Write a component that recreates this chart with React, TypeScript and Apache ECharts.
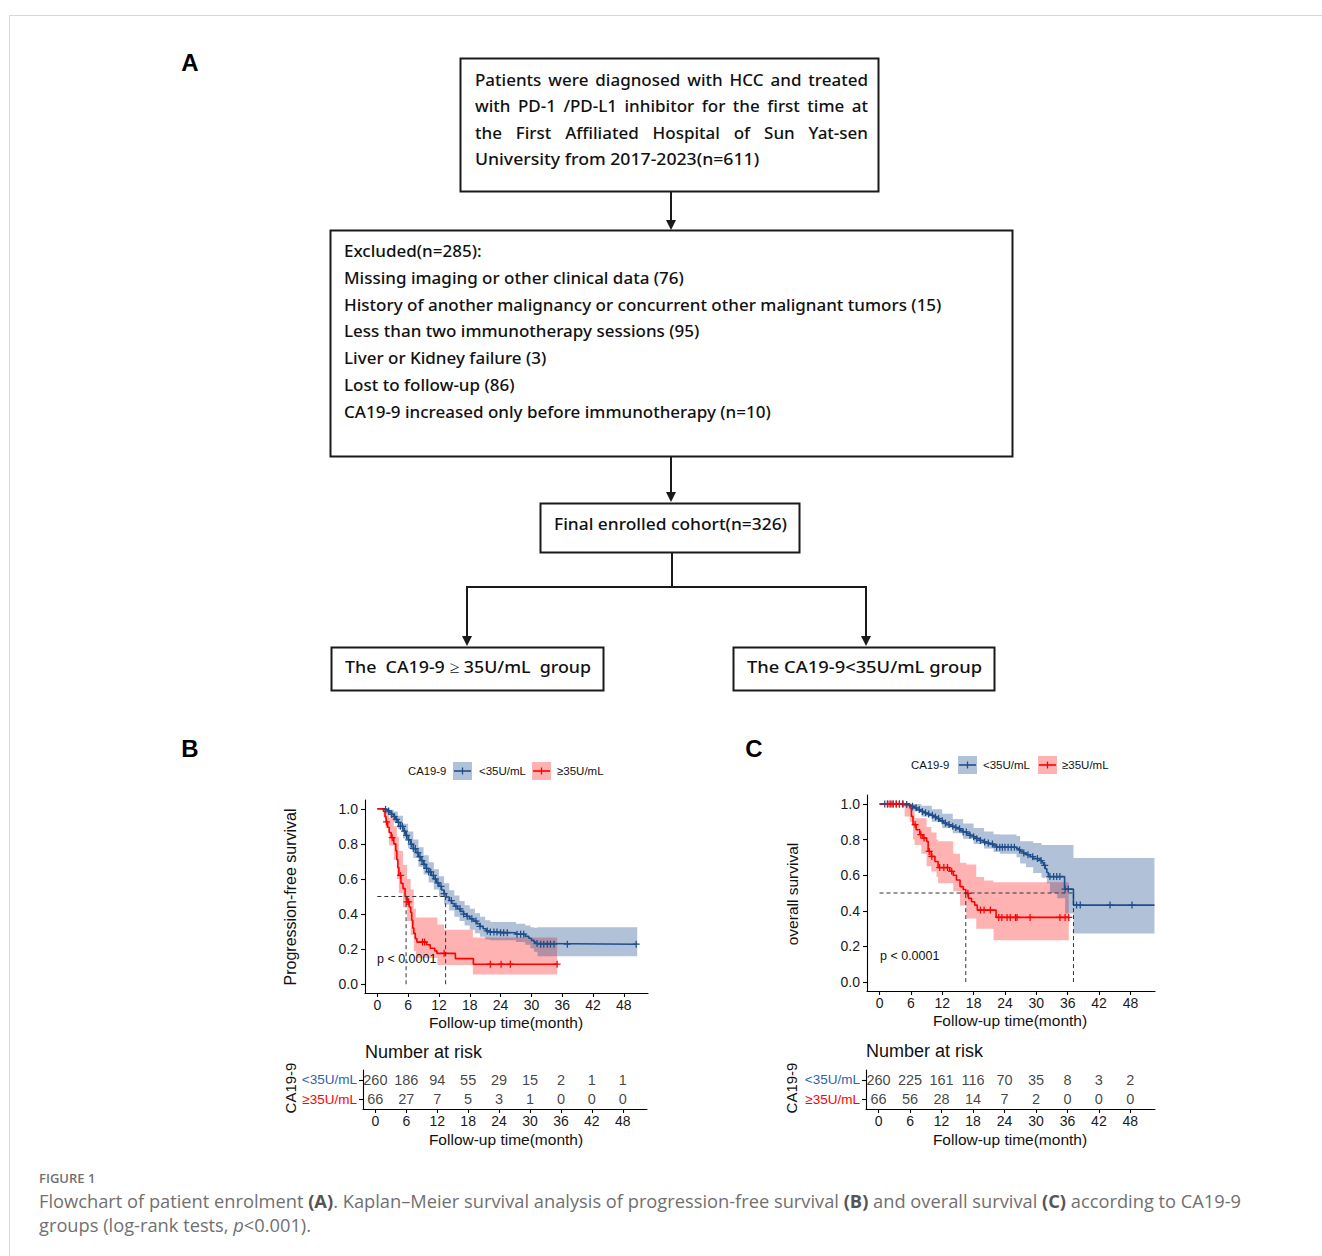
import React, { useEffect, useRef } from "react";
import * as echarts from "echarts";

const PAGE_W = 1322;
const PAGE_H = 1256;

// ---------------- shared tick / label data ----------------
const xTicks = [0, 6, 12, 18, 24, 30, 36, 42, 48];
const yTicks = [0, 0.2, 0.4, 0.6, 0.8, 1.0];
const riskRows = ["≥35U/mL", "<35U/mL"]; // bottom -> top
const riskTimes = [0, 6, 12, 18, 24, 30, 36, 42, 48];

// ---------------- panel B : progression-free survival ----------------
const pfsLowCurve: [number, number][] = [
  [0, 1], [1.6, 0.996], [2.0, 0.988], [2.4, 0.978], [2.8, 0.968], [3.2, 0.955], [3.6, 0.94],
  [4.0, 0.922], [4.5, 0.9], [5.0, 0.873], [5.5, 0.848], [6.0, 0.823], [6.5, 0.798], [7.0, 0.773],
  [7.5, 0.75], [8.0, 0.727], [8.5, 0.705], [9.0, 0.683], [9.5, 0.66], [10.0, 0.64], [10.5, 0.62],
  [11.0, 0.6], [11.5, 0.578], [12.0, 0.558], [12.5, 0.537], [13.0, 0.517], [13.4, 0.497],
  [14.0, 0.477], [14.5, 0.46], [15.0, 0.445], [15.6, 0.43], [16.2, 0.415], [16.8, 0.4],
  [17.4, 0.387], [18.0, 0.373], [18.7, 0.36], [19.4, 0.345], [20.0, 0.33], [20.6, 0.316],
  [21.2, 0.304], [21.8, 0.297], [23.5, 0.293], [27.0, 0.285], [28.8, 0.273], [29.5, 0.262],
  [30.0, 0.25], [30.5, 0.24], [30.9, 0.232], [31.2, 0.228], [50.6, 0.228],
];
// [time, lower, upper]
const pfsLowBand: [number, number, number][] = [
  [0, 1, 1], [1.6, 0.975, 1.0], [2.4, 0.955, 0.995], [3.2, 0.925, 0.985], [4.0, 0.885, 0.96],
  [5.0, 0.83, 0.915], [6.0, 0.775, 0.87], [7.0, 0.72, 0.825], [8.0, 0.67, 0.78], [9.0, 0.625, 0.735],
  [10.0, 0.58, 0.695], [11.0, 0.54, 0.655], [12.0, 0.5, 0.615], [13.0, 0.455, 0.575], [14.0, 0.42, 0.535],
  [15.0, 0.385, 0.505], [16.0, 0.36, 0.475], [17.0, 0.335, 0.45], [18.0, 0.31, 0.43], [19.0, 0.29, 0.405],
  [20.0, 0.27, 0.385], [21.0, 0.255, 0.365], [22.0, 0.25, 0.355], [27.0, 0.24, 0.345],
  [28.8, 0.225, 0.335], [29.8, 0.205, 0.325], [30.5, 0.185, 0.322], [31.2, 0.16, 0.325],
];
const pfsLowBandEnd = 50.6;
const pfsLowCensor = [
  1.6, 2.2, 2.8, 3.3, 3.7, 4.1, 4.5, 4.9, 5.3, 5.7, 6.1, 6.6, 7.0, 7.4, 7.9, 8.3, 8.7, 9.1, 9.6,
  10.0, 10.4, 10.9, 11.3, 11.8, 12.4, 13.0, 14.4, 15.3, 16.1, 16.8, 17.5, 18.4, 19.2, 20.0, 21.4,
  22.0, 22.7, 23.3, 24.0, 24.6, 25.3, 27.2, 27.9, 28.5, 31.1, 31.8, 32.4, 33.1, 33.7, 34.4, 37.0, 50.4,
];
const pfsHighCurve: [number, number][] = [
  [0, 1], [1.2, 0.985], [1.5, 0.955], [1.7, 0.925], [2.0, 0.895], [2.3, 0.865], [2.7, 0.835],
  [3.2, 0.8], [3.6, 0.76], [3.8, 0.71], [4.0, 0.665], [4.2, 0.62], [4.6, 0.575], [5.0, 0.545],
  [5.4, 0.5], [5.8, 0.47], [6.2, 0.44], [6.5, 0.41], [6.7, 0.365], [6.9, 0.32], [7.1, 0.29],
  [7.4, 0.26], [7.7, 0.24], [9.6, 0.225], [10.3, 0.205], [11.2, 0.19], [11.6, 0.176],
  [15.2, 0.146], [18.7, 0.114], [35.0, 0.114],
];
const pfsHighBand: [number, number, number][] = [
  [0, 1, 1], [1.2, 0.95, 1.0], [1.6, 0.89, 0.995], [2.3, 0.79, 0.95], [3.2, 0.71, 0.9], [3.8, 0.6, 0.84],
  [4.2, 0.52, 0.76], [5.0, 0.44, 0.68], [5.8, 0.36, 0.6], [6.5, 0.28, 0.54], [7.1, 0.19, 0.43],
  [7.5, 0.15, 0.38], [11.7, 0.11, 0.34], [13.0, 0.11, 0.31], [18.6, 0.055, 0.267],
];
const pfsHighBandEnd = 35.0;
const pfsHighCensor = [1.8, 2.9, 4.5, 5.8, 6.1, 8.8, 9.2, 13.0, 22.0, 24.1, 25.9, 35.0];
const pfsMedians = [5.6, 13.3];
const pfsRiskLow = [260, 186, 94, 55, 29, 15, 2, 1, 1];
const pfsRiskHigh = [66, 27, 7, 5, 3, 1, 0, 0, 0];

// ---------------- panel C : overall survival ----------------
const osLowCurve: [number, number][] = [
  [0, 1], [4.8, 0.996], [5.5, 0.993], [6.0, 0.987], [6.6, 0.978], [7.1, 0.968], [7.8, 0.958],
  [8.4, 0.95], [9.1, 0.943], [9.7, 0.936], [10.3, 0.927], [10.9, 0.918], [11.5, 0.905], [12.2, 0.893],
  [12.8, 0.884], [13.5, 0.875], [14.2, 0.868], [14.8, 0.861], [15.4, 0.852], [16.0, 0.843],
  [16.7, 0.833], [17.3, 0.824], [18.0, 0.815], [18.6, 0.805], [19.3, 0.795], [19.9, 0.786],
  [20.5, 0.78], [21.1, 0.775], [21.8, 0.766], [22.4, 0.757], [26.2, 0.75], [26.6, 0.742],
  [27.0, 0.733], [27.5, 0.724], [28.1, 0.715], [28.8, 0.704], [29.4, 0.693], [30.7, 0.682],
  [31.1, 0.67], [31.4, 0.655], [31.7, 0.636], [32.0, 0.615], [32.3, 0.592], [35.4, 0.522],
  [37.1, 0.432], [52.6, 0.432],
];
const osLowBand: [number, number, number][] = [
  [0, 1, 1], [4.5, 0.985, 1.0], [6.0, 0.96, 1.0], [8.0, 0.93, 0.99], [10.0, 0.9, 0.97], [12.0, 0.865, 0.945],
  [14.0, 0.835, 0.915], [16.0, 0.805, 0.89], [18.0, 0.775, 0.865], [20.0, 0.75, 0.845], [21.8, 0.73, 0.83],
  [23.0, 0.72, 0.828], [26.2, 0.7, 0.82], [26.9, 0.665, 0.79], [28.0, 0.645, 0.79], [29.4, 0.612, 0.78],
  [31.0, 0.585, 0.77], [32.0, 0.555, 0.77], [32.6, 0.5, 0.77], [34.0, 0.47, 0.77], [35.5, 0.385, 0.77],
  [37.1, 0.273, 0.697],
];
const osLowBandEnd = 52.6;
const osLowCensor = [
  1.0, 1.5, 2.0, 2.6, 3.2, 3.8, 4.4, 5.2, 6.3, 7.0, 7.6, 8.2, 8.8, 9.4, 10.1, 10.7, 11.3, 12.0, 12.6,
  13.3, 14.0, 14.6, 15.3, 16.0, 16.6, 17.3, 18.0, 18.6, 19.3, 20.1, 20.8, 21.6, 22.4, 23.0, 23.5, 24.0,
  24.6, 25.2, 25.8, 26.8, 27.6, 28.4, 29.3, 30.2, 30.9, 31.6, 32.6, 33.3, 33.9, 34.5, 35.5, 36.1, 37.7,
  38.4, 44.1, 48.3,
];
const osHighCurve: [number, number][] = [
  [0, 1], [5.8, 0.977], [6.1, 0.93], [6.4, 0.884], [7.0, 0.855], [7.7, 0.827], [8.3, 0.808],
  [9.0, 0.79], [9.3, 0.733], [9.9, 0.705], [10.6, 0.677], [11.2, 0.643], [13.4, 0.622], [14.1, 0.6],
  [14.7, 0.573], [15.4, 0.536], [16.0, 0.52], [16.5, 0.498], [17.0, 0.47], [17.6, 0.451], [18.2, 0.432],
  [18.7, 0.404], [22.3, 0.363], [36.2, 0.363],
];
const osHighBand: [number, number, number][] = [
  [0, 1, 1], [4.8, 0.93, 1.0], [5.8, 0.9, 1.0], [6.4, 0.8, 0.96], [6.7, 0.77, 0.92], [8.0, 0.72, 0.92],
  [9.0, 0.65, 0.87], [9.9, 0.62, 0.84], [10.9, 0.59, 0.8], [11.2, 0.555, 0.79], [14.1, 0.51, 0.72],
  [15.4, 0.43, 0.67], [16.6, 0.357, 0.66], [18.5, 0.3, 0.59], [20.0, 0.3, 0.57], [21.8, 0.235, 0.56],
];
const osHighBandEnd = 36.2;
const osHighCensor = [
  1.6, 2.2, 2.6, 3.2, 3.8, 4.5, 6.8, 7.9, 8.5, 9.5, 10.0, 11.5, 12.3, 13.0, 13.8, 16.9, 19.3, 20.0,
  21.2, 22.8, 23.4, 24.4, 25.0, 26.0, 26.3, 28.8, 34.5, 35.5, 36.2,
];
const osMedians = [16.5, 37.1];
const osRiskLow = [260, 225, 161, 116, 70, 35, 8, 3, 2];
const osRiskHigh = [66, 56, 28, 14, 7, 2, 0, 0, 0];

// ---------------- flowchart texts ----------------
const box1Lines = [
  "Patients were diagnosed with HCC and treated",
  "with PD-1 /PD-L1 inhibitor for the first time at",
  "the First Affiliated Hospital of Sun Yat-sen",
  "University from 2017-2023(n=611)",
];
const excludedLines = [
  "Excluded(n=285):",
  "Missing imaging or other clinical data (76)",
  "History of another malignancy or concurrent other malignant tumors (15)",
  "Less than two immunotherapy sessions (95)",
  "Liver or Kidney failure (3)",
  "Lost to follow-up (86)",
  "CA19-9 increased only before immunotherapy (n=10)",
];
const cohortText = "Final enrolled cohort(n=326)";
const highGroupText = "The \u00a0CA19-9 ≥ 35U/mL \u00a0group";
const lowGroupText = "The CA19-9<35U/mL group";

// ---------------- styles ----------------
const PLOT_FONT = "Liberation Sans";
const FLOW_FONT = "Noto Sans";
const FLOW_WEIGHT = 500;
const CAP_FONT = "Open Sans";
const BLUE = "#1F4E8C";
const RED = "#FF0000";
const BLUE_FILL = "rgba(31,78,140,0.35)";
const RED_FILL = "rgba(255,0,0,0.3)";
const BLUE_TXT = "#2E63AC";
const PLUS = "path://M0,4.1H10V5.9H0Z M4.1,0H5.9V10H4.1Z";
const XMIN = -2.4;
const XMAX = 52.7;

let measureCtx: CanvasRenderingContext2D | null = null;
function tw(s: string, size: number, family: string, weight: any = "normal", style = "normal") {
  if (!measureCtx) measureCtx = document.createElement("canvas").getContext("2d");
  measureCtx!.font = `${style} ${weight} ${size}px "${family}"`;
  return measureCtx!.measureText(s).width;
}

function stepAt(curve: [number, number][], t: number) {
  let v = curve[0][1];
  for (const [ti, s] of curve) {
    if (ti <= t) v = s;
    else break;
  }
  return v;
}

function bandSeries(band: [number, number, number][], end: number, fill: string, gi: number) {
  return {
    type: "custom",
    xAxisIndex: gi,
    yAxisIndex: gi,
    silent: true,
    z: 1,
    data: band,
    encode: { x: 0, y: [1, 2] },
    renderItem: (params: any, api: any) => {
      if (params.dataIndex !== 0) return null;
      const pts: number[][] = [];
      for (let i = 0; i < band.length; i++) {
        const t1 = i + 1 < band.length ? band[i + 1][0] : end;
        pts.push(api.coord([band[i][0], band[i][2]]), api.coord([t1, band[i][2]]));
      }
      for (let i = band.length - 1; i >= 0; i--) {
        const t1 = i + 1 < band.length ? band[i + 1][0] : end;
        pts.push(api.coord([t1, band[i][1]]), api.coord([band[i][0], band[i][1]]));
      }
      return { type: "polygon", shape: { points: pts }, style: { fill } };
    },
  };
}

function kmSeries(gi: number, d: any) {
  const s: any[] = [];
  s.push(bandSeries(d.highBand, d.highEnd, RED_FILL, gi));
  s.push(bandSeries(d.lowBand, d.lowEnd, BLUE_FILL, gi));
  s.push({
    type: "line", name: "<35U/mL", xAxisIndex: gi, yAxisIndex: gi, data: d.lowCurve, step: "end",
    symbol: "none", lineStyle: { color: BLUE, width: 1.6 }, z: 3, silent: true,
  });
  s.push({
    type: "line", name: "≥35U/mL", xAxisIndex: gi, yAxisIndex: gi, data: d.highCurve, step: "end",
    symbol: "none", lineStyle: { color: RED, width: 1.6 }, z: 3, silent: true,
  });
  s.push({
    type: "scatter", xAxisIndex: gi, yAxisIndex: gi, symbol: PLUS, symbolSize: 7, z: 4, silent: true,
    data: d.lowCensor.map((t: number) => [t, stepAt(d.lowCurve, t)]),
    itemStyle: { color: BLUE, opacity: 1 },
  });
  s.push({
    type: "scatter", xAxisIndex: gi, yAxisIndex: gi, symbol: PLUS, symbolSize: 7, z: 4, silent: true,
    data: d.highCensor.map((t: number) => [t, stepAt(d.highCurve, t)]),
    itemStyle: { color: RED, opacity: 1 },
  });
  const dash = { type: [4, 3], color: "#333", width: 1 };
  s.push({
    type: "line", xAxisIndex: gi, yAxisIndex: gi, symbol: "none", silent: true, z: 5,
    data: [[0, 0.5], [Math.max(...d.medians), 0.5]], lineStyle: dash,
  });
  d.medians.forEach((m: number) => {
    s.push({
      type: "line", xAxisIndex: gi, yAxisIndex: gi, symbol: "none", silent: true, z: 5,
      data: [[m, 0], [m, 0.5]], lineStyle: dash,
    });
  });
  return s;
}

function riskSeries(gi: number, low: number[], high: number[]) {
  const mk = (vals: number[], row: number) => ({
    type: "scatter", xAxisIndex: gi, yAxisIndex: gi, symbolSize: 1, silent: true,
    itemStyle: { color: "rgba(0,0,0,0)" },
    data: riskTimes.map((t, i) => [t, row, vals[i]]),
    label: {
      show: true, position: "inside", formatter: (p: any) => String(p.value[2]),
      fontSize: 14.5, color: "#111", fontFamily: PLOT_FONT,
    },
  });
  return [mk(low, 1), mk(high, 0)];
}

const axLine = { color: "#000", width: 1.1 };

function xAx(gi: number) {
  return {
    type: "value", gridIndex: gi, min: XMIN, max: XMAX,
    axisLine: { show: true, onZero: false, lineStyle: axLine },
    axisTick: { show: true, length: 4, customValues: xTicks, lineStyle: axLine },
    axisLabel: { show: true, customValues: xTicks, margin: 5, fontSize: 14, color: "#1a1a1a", fontFamily: PLOT_FONT },
    splitLine: { show: false },
  };
}
function yAx(gi: number) {
  return {
    type: "value", gridIndex: gi, min: -0.05, max: 1.05,
    axisLine: { show: true, onZero: false, lineStyle: axLine },
    axisTick: { show: true, length: 4, customValues: yTicks, lineStyle: axLine },
    axisLabel: {
      show: true, customValues: yTicks, margin: 7, fontSize: 14, color: "#1a1a1a", fontFamily: PLOT_FONT,
      formatter: (v: number) => v.toFixed(1),
    },
    splitLine: { show: false },
  };
}
function riskY(gi: number) {
  return {
    type: "category", gridIndex: gi, data: riskRows,
    axisLine: { show: true, onZero: false, lineStyle: axLine },
    axisTick: { show: true, length: 4, alignWithLabel: true, lineStyle: axLine },
    axisLabel: {
      show: true, margin: 6,
      formatter: (v: string) => (v.startsWith("<") ? `{b|${v}}` : `{r|${v}}`),
      rich: {
        b: { color: BLUE_TXT, fontSize: 13.5, fontFamily: PLOT_FONT },
        r: { color: RED, fontSize: 13.5, fontFamily: PLOT_FONT },
      },
    },
    splitLine: { show: false },
  };
}

function txt(text: string, x: number, y: number, o: any = {}) {
  return {
    type: "text", x, y, silent: true, z: 10,
    rotation: o.rotation || 0, scaleX: o.scaleX || 1,
    style: {
      text, fill: o.fill || "#111", fontSize: o.size || 13, fontFamily: o.family || PLOT_FONT,
      fontWeight: o.weight || "normal", fontStyle: o.style || "normal",
      align: o.align || "left", verticalAlign: "middle", rich: o.rich,
    },
  };
}

function legendKey(x: number, y: number, fill: string, stroke: string) {
  return [
    { type: "rect", silent: true, z: 10, shape: { x, y, width: 19, height: 18 }, style: { fill } },
    { type: "line", silent: true, z: 11, shape: { x1: x + 1, y1: y + 9, x2: x + 18, y2: y + 9 }, style: { stroke, lineWidth: 1.6 } },
    { type: "line", silent: true, z: 11, shape: { x1: x + 9.5, y1: y + 5.5, x2: x + 9.5, y2: y + 12.5 }, style: { stroke, lineWidth: 1.3 } },
  ];
}

function buildGraphic() {
  const g: any[] = [];
  // page frame
  g.push({ type: "rect", silent: true, shape: { x: 9.5, y: 15.5, width: 1400, height: 1400 }, style: { fill: "none", stroke: "#d8d8d8", lineWidth: 1 } });
  // panel letters
  g.push(txt("A", 190, 62, { size: 24, weight: "bold", align: "center", fill: "#000" }));
  g.push(txt("B", 190, 748, { size: 24, weight: "bold", align: "center", fill: "#000" }));
  g.push(txt("C", 754, 748, { size: 24, weight: "bold", align: "center", fill: "#000" }));

  // ---- flowchart ----
  const box = (x: number, y: number, w: number, h: number) => ({
    type: "rect", silent: true, shape: { x, y, width: w, height: h },
    style: { fill: "none", stroke: "#1a1a1a", lineWidth: 2 },
  });
  const seg = (x1: number, y1: number, x2: number, y2: number) => ({
    type: "line", silent: true, shape: { x1, y1, x2, y2 }, style: { stroke: "#1a1a1a", lineWidth: 2 },
  });
  const head = (x: number, tip: number) => ({
    type: "polygon", silent: true, shape: { points: [[x - 5, tip - 10], [x + 5, tip - 10], [x, tip]] },
    style: { fill: "#1a1a1a" },
  });
  g.push(box(460.5, 58.5, 418, 133));
  g.push(box(330.5, 230.5, 682, 226));
  g.push(box(540.5, 503.5, 259, 49));
  g.push(box(331.5, 647.5, 272, 43));
  g.push(box(733.5, 647.5, 261, 43));
  g.push(seg(671, 192, 671, 221), head(671, 230));
  g.push(seg(671, 457, 671, 493), head(671, 502));
  g.push(seg(672, 553, 672, 587), seg(466, 587, 867, 587));
  g.push(seg(467, 587, 467, 637), head(467, 646));
  g.push(seg(866, 587, 866, 637), head(866, 646));

  const W = (s: string, fs: number) => tw(s, fs, FLOW_FONT, FLOW_WEIGHT);
  const longest = excludedLines.reduce((a, b) => (W(b, 17) > W(a, 17) ? b : a));
  const fsFlow = (17 * 598) / W(longest, 17);
  const fo = { size: fsFlow, family: FLOW_FONT, fill: "#111", weight: FLOW_WEIGHT };

  const b1y = [79, 105.5, 132, 158.5];
  const jl = 475, jr = 868;
  box1Lines.forEach((line, i) => {
    if (i < 3) {
      const words = line.split(" ");
      const ws = words.map((w) => W(w, fsFlow));
      const gap = (jr - jl - ws.reduce((a, b) => a + b, 0)) / (words.length - 1);
      let x = jl;
      words.forEach((w, k) => {
        g.push(txt(w, x, b1y[i], fo));
        x += ws[k] + gap;
      });
    } else {
      const sx = 284 / W(line, fsFlow);
      g.push(txt(line, jl, b1y[i], { ...fo, scaleX: sx }));
    }
  });
  excludedLines.forEach((line, i) => {
    g.push(txt(line, 344, 250.5 + i * 26.75, fo));
  });
  g.push(txt(cohortText, 670.5, 524, { ...fo, align: "center", scaleX: 233 / W(cohortText, fsFlow) }));
  g.push(txt(highGroupText, 468, 666, { ...fo, align: "center", scaleX: 246 / W(highGroupText, fsFlow) }));
  g.push(txt(lowGroupText, 864.5, 666, { ...fo, align: "center", scaleX: 235 / W(lowGroupText, fsFlow) }));

  // ---- panel B annotations ----
  g.push(txt("CA19-9", 408, 771, { size: 11.3 }));
  g.push(...legendKey(453, 762, BLUE_FILL, BLUE));
  g.push(txt("<35U/mL", 479, 771, { size: 11.5 }));
  g.push(...legendKey(532, 762, RED_FILL, RED));
  g.push(txt("≥35U/mL", 557, 771, { size: 11.5 }));
  g.push(txt("Progression-free survival", 290, 897, { size: 16, align: "center", rotation: Math.PI / 2 }));
  g.push(txt("Follow-up time(month)", 506, 1022, { size: 15.5, align: "center" }));
  g.push(txt("p < 0.0001", 377, 959, { size: 12.5 }));
  g.push(txt("Number at risk", 365, 1052, { size: 18 }));
  g.push(txt("CA19-9", 290, 1088, { size: 15, align: "center", rotation: Math.PI / 2 }));
  g.push(txt("Follow-up time(month)", 506, 1139, { size: 15.5, align: "center" }));

  // ---- panel C annotations ----
  g.push(txt("CA19-9", 911, 765, { size: 11.3 }));
  g.push(...legendKey(958, 756, BLUE_FILL, BLUE));
  g.push(txt("<35U/mL", 983, 765, { size: 11.5 }));
  g.push(...legendKey(1038, 756, RED_FILL, RED));
  g.push(txt("≥35U/mL", 1062, 765, { size: 11.5 }));
  g.push(txt("overall survival", 792, 894, { size: 15.5, align: "center", rotation: Math.PI / 2 }));
  g.push(txt("Follow-up time(month)", 1010, 1020, { size: 15.5, align: "center" }));
  g.push(txt("p < 0.0001", 880, 956, { size: 12.5 }));
  g.push(txt("Number at risk", 866, 1051, { size: 18 }));
  g.push(txt("CA19-9", 791, 1088, { size: 15, align: "center", rotation: Math.PI / 2 }));
  g.push(txt("Follow-up time(month)", 1010, 1139, { size: 15.5, align: "center" }));

  // ---- caption ----
  const capColor = "#707070";
  const l1 = [
    ["n", "Flowchart of patient enrolment "], ["b", "(A)"],
    ["n", ". Kaplan\u2013Meier survival analysis of progression-free survival "], ["b", "(B)"],
    ["n", " and overall survival "], ["b", "(C)"], ["n", " according to CA19-9"],
  ];
  const l2 = [["n", "groups (log-rank tests, "], ["i", "p"], ["n", "<0.001)."]];
  const w17 = l1.reduce((a, [k, s]) => a + tw(s, 17, CAP_FONT, k === "b" ? "bold" : "normal"), 0);
  const fsCap = (17 * 1203) / w17;
  const rich = {
    n: { fontSize: fsCap, fontFamily: CAP_FONT, fill: capColor, color: capColor },
    b: { fontSize: fsCap, fontFamily: CAP_FONT, fontWeight: "bold", fill: "#555", color: "#555" },
    i: { fontSize: fsCap, fontFamily: CAP_FONT, fontStyle: "italic", fill: capColor, color: capColor },
  };
  const toRich = (parts: string[][]) => parts.map(([k, s]) => `{${k}|${s}}`).join("");
  g.push(txt("FIGURE 1", 39, 1178, { size: 13, family: CAP_FONT, weight: 600, fill: "#707070" }));
  g.push(txt(toRich(l1), 39, 1200, { size: fsCap, family: CAP_FONT, fill: capColor, rich }));
  g.push(txt(toRich(l2), 39, 1224, { size: fsCap, family: CAP_FONT, fill: capColor, rich }));
  return g;
}

function buildOption() {
  const pfs = {
    lowCurve: pfsLowCurve, lowBand: pfsLowBand, lowEnd: pfsLowBandEnd, lowCensor: pfsLowCensor,
    highCurve: pfsHighCurve, highBand: pfsHighBand, highEnd: pfsHighBandEnd, highCensor: pfsHighCensor,
    medians: pfsMedians,
  };
  const os = {
    lowCurve: osLowCurve, lowBand: osLowBand, lowEnd: osLowBandEnd, lowCensor: osLowCensor,
    highCurve: osHighCurve, highBand: osHighBand, highEnd: osHighBandEnd, highCensor: osHighCensor,
    medians: osMedians,
  };
  const gridBase = { outerBoundsMode: "none", containLabel: false, show: false };
  return {
    animation: false,
    backgroundColor: "#ffffff",
    grid: [
      { ...gridBase, left: 365, top: 800, width: 283, height: 193 },
      { ...gridBase, left: 363, top: 1070, width: 284, height: 39 },
      { ...gridBase, left: 867, top: 795, width: 288, height: 196 },
      { ...gridBase, left: 866, top: 1070, width: 289, height: 39 },
    ],
    xAxis: [xAx(0), xAx(1), xAx(2), xAx(3)],
    yAxis: [yAx(0), riskY(1), yAx(2), riskY(3)],
    series: [
      ...kmSeries(0, pfs),
      ...riskSeries(1, pfsRiskLow, pfsRiskHigh),
      ...kmSeries(2, os),
      ...riskSeries(3, osRiskLow, osRiskHigh),
    ],
    graphic: buildGraphic(),
  };
}

export default function App() {
  const ref = useRef<HTMLDivElement>(null);
  useEffect(() => {
    const chart = echarts.init(ref.current!, null, { renderer: "svg" });
    chart.setOption(buildOption() as any);
    return () => chart.dispose();
  }, []);
  return (
    <div
      ref={ref}
      style={{ position: "absolute", left: 0, top: 0, width: PAGE_W, height: PAGE_H, background: "#fff" }}
    />
  );
}
